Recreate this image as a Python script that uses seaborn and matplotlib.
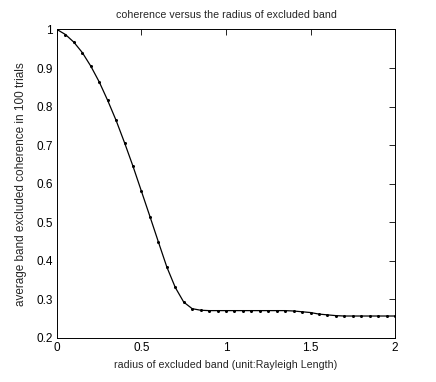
import pandas as pd
import seaborn as sns
import matplotlib.pyplot as plt
import matplotlib

matplotlib.use('Agg')

# radius of excluded band (Rayleigh lengths) and average coherence over 100 trials
radius = [0.00, 0.05, 0.10, 0.15, 0.20, 0.25, 0.30, 0.35, 0.40, 0.45,
          0.50, 0.55, 0.60, 0.65, 0.70, 0.75, 0.80, 0.85, 0.90, 0.95,
          1.00, 1.05, 1.10, 1.15, 1.20, 1.25, 1.30, 1.35, 1.40, 1.45,
          1.50, 1.55, 1.60, 1.65, 1.70, 1.75, 1.80, 1.85, 1.90, 1.95, 2.00]
coherence = [1.000, 0.987, 0.967, 0.940, 0.905, 0.864, 0.816, 0.764, 0.706, 0.645,
             0.580, 0.515, 0.449, 0.384, 0.331, 0.293, 0.276, 0.272, 0.271, 0.271,
             0.271, 0.271, 0.271, 0.271, 0.271, 0.271, 0.271, 0.271, 0.270, 0.268,
             0.266, 0.262, 0.260, 0.258, 0.257, 0.257, 0.257, 0.257, 0.257, 0.257, 0.257]

x_ticks = [0, 0.5, 1, 1.5, 2]
x_tick_labels = ["0", "0.5", "1", "1.5", "2"]
y_ticks = [0.2, 0.3, 0.4, 0.5, 0.6, 0.7, 0.8, 0.9, 1.0]
y_tick_labels = ["0.2", "0.3", "0.4", "0.5", "0.6", "0.7", "0.8", "0.9", "1"]


def plot_graph(df: pd.DataFrame, fig_location: str = "out.png"):
    """
    draw the matlab-like line plot of coherence vs radius
    """
    sns.set_theme(style="white")
    plt.rcParams['font.family'] = ['Liberation Sans', 'DejaVu Sans']

    fig = plt.figure(figsize=(4.36, 3.82), dpi=100)
    ax = fig.add_axes([0.1307, 0.1152, 0.7753, 0.8076])
    sns.lineplot(data=df, x="radius", y="coherence", ax=ax, color="black",
                 linewidth=0.9, marker="o", markersize=2.2, markeredgewidth=0)

    ax.set_xlim(0, 2)
    ax.set_ylim(0.2, 1)
    ax.set_xticks(x_ticks)
    ax.set_xticklabels(x_tick_labels)
    ax.set_yticks(y_ticks)
    ax.set_yticklabels(y_tick_labels)
    ax.tick_params(direction="in", length=4, width=0.6, top=True, right=True,
                   labelsize=8.5, colors="black", pad=3)
    for spine in ax.spines.values():
        spine.set_color("black")
        spine.set_linewidth(0.7)

    ax.set_xlabel("radius of excluded band (unit:Rayleigh Length)", fontsize=7.7, labelpad=4)
    ax.set_ylabel("average band excluded coherence in 100 trials", fontsize=8.5, labelpad=7)
    ax.set_title("coherence versus the radius of excluded band", fontsize=7.7, pad=8)

    fig.savefig(fig_location, dpi=100)


if __name__ == "__main__":
    df = pd.DataFrame({"radius": radius, "coherence": coherence})
    plot_graph(df)
